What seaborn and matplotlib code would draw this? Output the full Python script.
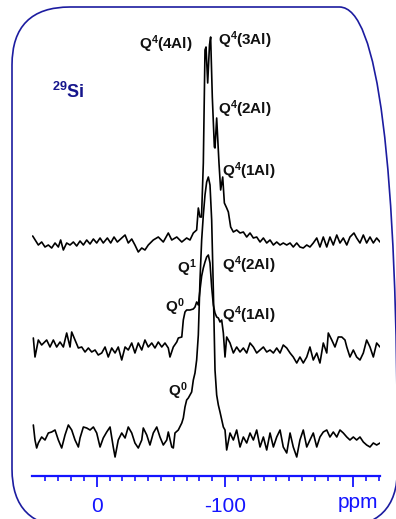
import numpy as np
import pandas as pd
import matplotlib
matplotlib.use("Agg")
import matplotlib.pyplot as plt
from matplotlib.patches import FancyBboxPatch
import seaborn as sns

# 29Si MAS NMR spectra: chemical shift (ppm) and intensity (a.u.)
shift_top = [49.9, 45.5, 42.9, 40.3, 37.7, 35.1, 32.5, 29.9, 28.1, 26.0, 23.4, 20.8, 18.2, 15.6,
             13.0, 10.4, 7.8, 5.2, 2.6, 0.0, -2.6, -5.1, -8.3, -10.9, -13.5, -16.1, -19.5, -22.1,
             -24.6, -27.3, -29.8, -32.4, -35.1, -37.6, -40.2, -44.1, -48.0, -51.9, -55.8, -58.5,
             -62.4, -66.3, -70.1, -72.7, -75.3, -77.9, -79.2, -80.5, -81.7, -83.1, -84.4, -85.2,
             -86.5, -87.9, -88.8, -90.1, -91.7, -92.2, -93.5, -95.3, -96.6, -98.2, -99.5, -101.3,
             -102.6, -104.4, -106.5, -109.1, -111.7, -114.3, -116.9, -119.5, -122.1, -124.7,
             -127.3, -129.9, -132.5, -135.1, -137.7, -140.3, -142.9, -145.4, -148.1, -150.7,
             -153.2, -155.9, -158.4, -161.0, -163.7, -166.2, -168.8, -171.5, -174.0, -176.6,
             -179.3, -181.8, -184.4, -187.1, -189.6, -192.2, -194.9, -197.4, -200.5, -202.6,
             -205.2, -207.8, -210.4, -213.0, -215.6, -218.2, -220.8]
int_top = [7, -2, 1, -4, -2, -5, 0, -4, 3, -7, 0, -2, 1, -3,
           2, -2, 3, -1, 4, 0, 5, 0, 5, 0, 6, 1, 5, 8,
           0, 4, -2, -9, -5, -7, -2, 3, 6, 1, 10, 3,
           6, 1, 5, 3, 10, 13, 35, 26, 26, 80, 193, 196,
           160, 198, 206, 146, 96, 95, 125, 80, 53, 66, 40, 35,
           31, 16, 11, 13, 10, 11, 6, 10, 5, 6,
           1, 5, 0, 3, -2, 1, -2, 0, -2, 0,
           -4, 0, -4, -5, -2, -4, 0, 5, -4, 6,
           -4, 6, -2, 8, 0, 5, -2, 6, 10, 5,
           0, 8, 0, 6, 0, 5, 1]

shift_mid = [49.4, 48.1, 45.5, 42.9, 39.0, 36.4, 33.8, 31.2, 28.6, 26.0, 23.4, 20.8, 19.5, 16.9,
             14.3, 11.7, 9.1, 6.5, 3.9, 1.3, -1.2, -3.9, -6.5, -9.0, -11.7, -14.3, -16.8, -19.5,
             -22.1, -24.6, -27.3, -29.8, -32.4, -35.1, -37.6, -40.2, -42.9, -45.4, -48.0, -50.7,
             -53.2, -55.8, -57.1, -59.7, -62.4, -63.6, -66.3, -67.5, -68.8, -70.1, -72.7, -75.3,
             -76.6, -77.9, -79.2, -80.5, -81.8, -83.1, -84.4, -85.7, -87.0, -88.3, -89.6, -90.9,
             -92.2, -93.5, -94.8, -96.1, -97.4, -98.7, -100.0, -101.3, -103.9, -106.5, -109.1,
             -111.7, -114.3, -116.9, -119.5, -122.1, -124.7, -127.3, -129.9, -132.5, -135.1,
             -137.7, -140.3, -142.9, -145.4, -148.1, -150.7, -153.2, -155.9, -158.4, -161.0,
             -163.7, -166.2, -168.8, -171.5, -174.0, -176.6, -179.3, -180.5, -183.2, -185.7,
             -188.3, -191.0, -193.5, -194.9, -197.4, -200.0, -202.6, -205.2, -207.8, -210.4,
             -213.0, -215.6, -218.2, -220.8]
int_mid = [10, -9, 8, 3, 8, 1, 8, 1, 6, 1, 15, 1, 16, 8,
           0, 1, -4, 0, -4, -2, -7, -5, 1, -9, 0, -5, 1, -12,
           1, -2, 5, -5, 5, -2, 8, 1, 5, 0, 6, 1,
           5, 0, -9, 1, 6, 10, 11, 28, 36, 38, 38, 39,
           41, 46, 43, 58, 72, 80, 86, 91, 93, 85, 61, 43,
           35, 31, 30, 26, 28, 15, -9, 11, 5, -5, 1,
           -4, 0, -5, 5, 1, -5, -2, 1, -4, -2,
           -5, 0, -5, 3, 0, -5, -9, -15, -9, -15,
           -9, 1, -12, -5, -15, 5, -5, 15, 8, 1,
           11, 11, 8, 1, -9, -2, -9, -12, -5, 8,
           1, -9, 5, 1]

shift_bot = [49.4, 48.1, 46.8, 45.5, 42.9, 40.3, 37.7, 35.1, 32.5, 29.9, 27.3, 24.7, 22.1, 19.5,
             16.9, 14.3, 13.0, 10.4, 7.8, 5.2, 2.6, 0.0, -2.6, -5.1, -7.8, -10.4, -12.9, -14.3,
             -16.8, -19.5, -22.1, -24.6, -27.3, -29.8, -32.4, -35.1, -36.3, -39.0, -41.5, -44.1,
             -46.8, -49.3, -51.9, -54.6, -55.8, -58.5, -59.7, -61.0, -63.6, -66.3, -67.5, -68.8,
             -70.1, -71.4, -74.0, -75.3, -76.6, -77.9, -79.2, -80.5, -81.8, -83.1, -84.4, -85.7,
             -87.0, -88.3, -89.6, -90.9, -92.2, -93.5, -94.8, -96.1, -98.7, -100.0, -101.3,
             -103.9, -106.5, -109.1, -111.7, -114.3, -116.9, -119.5, -122.1, -124.7, -127.3,
             -129.9, -132.5, -135.1, -137.7, -140.3, -142.9, -145.4, -148.1, -150.7, -153.2,
             -155.9, -158.4, -161.0, -163.7, -166.2, -168.8, -171.5, -174.0, -176.6, -179.3,
             -181.8, -184.4, -187.1, -189.6, -192.2, -194.9, -197.4, -200.0, -202.6, -205.2,
             -207.8, -210.4, -213.0, -215.6, -218.2, -220.8]
int_bot = [13, -2, -10, -5, 1, -2, 5, 6, 8, -2, -10, 3, 13, 8,
           -2, -9, 0, 11, 10, 8, 11, 5, -9, 0, 6, 11, -9, -19,
           -2, 5, 0, 11, 5, -5, -10, -2, 10, 3, -7, 5,
           11, 1, -7, -2, 6, -9, -10, 5, 8, 15, 20, 31,
           38, 40, 46, 58, 65, 78, 103, 158, 198, 223, 243, 256,
           261, 253, 218, 148, 68, 43, 33, 26, 11, 8, -12,
           5, -2, 8, -9, 1, -5, 5, -2, 8, -9,
           1, -12, 5, -9, 1, 8, -9, -15, 5, -9,
           -19, -2, 8, -9, -2, 5, -9, 1, 6, 8,
           1, 6, 1, 8, 5, 1, -2, 1, -2, 1,
           -4, -7, -9, -5, -7, -5]

# vertical stacking of the three spectra
offsets = {"top": 232.7, "mid": 127.7, "bot": 37.7}

frames = []
for name, s, v in (("top", shift_top, int_top), ("mid", shift_mid, int_mid), ("bot", shift_bot, int_bot)):
    frames.append(pd.DataFrame({"ppm": s, "signal": np.array(v, float) + offsets[name], "trace": name}))
spectra = pd.concat(frames, ignore_index=True)

sns.set_style("white")
plt.rcParams["font.family"] = ["Liberation Sans", "DejaVu Sans"]
plt.rcParams["mathtext.fontset"] = "custom"
plt.rcParams["mathtext.rm"] = "Liberation Sans:bold"
plt.rcParams["mathtext.it"] = "Liberation Sans:bold"
plt.rcParams["mathtext.bf"] = "Liberation Sans:bold"

W, H = 396, 519
fig = plt.figure(figsize=(W / 100, H / 100), dpi=100)
ax = fig.add_axes([32.3 / W, (H - 475.7) / H, (380 - 32.3) / W, 475.7 / H])
ax.patch.set_alpha(0)

for name in ("top", "mid", "bot"):
    sub = spectra[spectra["trace"] == name]
    sns.lineplot(data=sub, x="ppm", y="signal", sort=False, estimator=None,
                 color="black", lw=1.2, ax=ax, legend=False)

ax.set_xlim(50.2, -220.8)
ax.set_ylim(0, 475.7)
ax.set_xlabel("")
ax.set_ylabel("")
for side in ("top", "left", "right"):
    ax.spines[side].set_visible(False)

axis_blue = "#1414ff"
ax.spines["bottom"].set_color(axis_blue)
ax.spines["bottom"].set_linewidth(1.6)
ax.set_yticks([])
ax.set_xticks([0, -100, -200])
ax.set_xticklabels(["0", "-100", ""])
ax.set_xticks(np.arange(40, -221, -10), minor=True)
ax.tick_params(axis="x", which="major", direction="out", length=8, width=1.3,
               color=axis_blue, labelcolor=axis_blue, labelsize=15, pad=7, bottom=True)
ax.tick_params(axis="x", which="minor", direction="out", length=3.8, width=1.2,
               color=axis_blue, bottom=True)
ax.text(-203.5, -26.3, "ppm", color=axis_blue, fontsize=15, ha="center", va="center")

# peak assignments
lab = dict(fontsize=11, fontweight="bold", color="#111111", va="center")
ax.text(-32.7, 475.7 - 44, r"Q$^4$(4Al)", ha="left", **lab)
ax.text(-94.5, 475.7 - 40, r"Q$^4$(3Al)", ha="left", **lab)
ax.text(-94.5, 475.7 - 109, r"Q$^4$(2Al)", ha="left", **lab)
ax.text(-97.5, 475.7 - 171.7, r"Q$^4$(1Al)", ha="left", **lab)
ax.text(-62.5, 475.7 - 268, r"Q$^1$", ha="left", **lab)
ax.text(-53.5, 475.7 - 306.7, r"Q$^0$", ha="left", **lab)
ax.text(-97.5, 475.7 - 265, r"Q$^4$(2Al)", ha="left", **lab)
ax.text(-97.5, 475.7 - 315, r"Q$^4$(1Al)", ha="left", **lab)
ax.text(-55.8, 475.7 - 391.7, r"Q$^0$", ha="left", **lab)
ax.text(34.7, 475.7 - 91.7, r"$^{29}$Si", ha="left", va="center", fontsize=13,
        fontweight="bold", color="#15158c")

# rounded frame around the panel
frame = FancyBboxPatch((0.12, -0.08), 3.855, 5.20, boxstyle="round,pad=0,rounding_size=0.58",
                       transform=fig.dpi_scale_trans, fill=False, edgecolor="#1c1ca0",
                       linewidth=1.2, clip_on=False)
fig.add_artist(frame)

fig.savefig("out.png", dpi=100)
